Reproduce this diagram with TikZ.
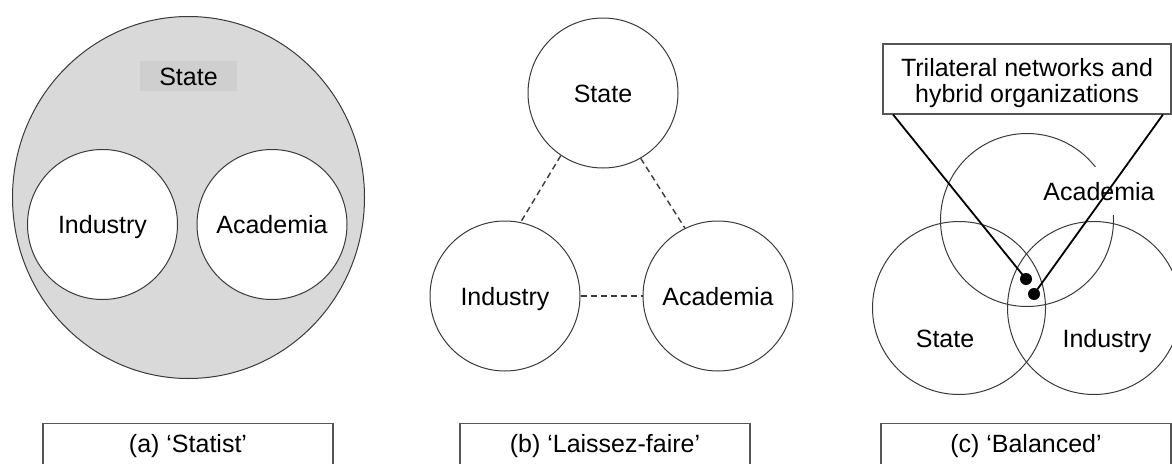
\documentclass[tikz,border=0pt]{standalone}
\usepackage{fontspec}
\setmainfont{Liberation Sans}
\usetikzlibrary{shapes.geometric}
\definecolor{fillgray}{HTML}{D9D9D9}
\definecolor{labgray}{HTML}{CFCFCF}
\definecolor{strokec}{HTML}{3A3A3A}
\definecolor{boxc}{HTML}{555555}
\begin{document}
\begin{tikzpicture}[x=1pt,y=-1pt,
  txt/.style={font=\fontsize{25}{26}\selectfont, text height=18pt, text depth=0pt, inner sep=0pt},
  ring/.style={circle, draw=strokec, line width=1pt, minimum size=150pt, inner sep=0pt, txt},
  vring/.style={circle, draw=strokec, line width=1pt, minimum size=173pt, inner sep=0pt},
  dashline/.style={draw=strokec, line width=1.4pt, dash pattern=on 6pt off 4pt},
  lead/.style={draw=black, line width=1.8pt},
  dotc/.style={circle, fill=black, minimum size=12pt, inner sep=0pt},
  capbox/.style={draw=boxc, line width=1.3pt, minimum width=290pt, minimum height=60pt, anchor=north, inner sep=0pt}
]
\clip (0,0) rectangle (1172,463);
\fill[white] (0,0) rectangle (1172,463);

% ---------- (a) Statist ----------
\node[ellipse, draw=strokec, fill=fillgray, line width=1pt, minimum width=352pt, minimum height=362pt, inner sep=0pt] (bigstate) at (188.5,197.5) {};
\node[txt, fill=labgray, minimum width=97pt, minimum height=30pt] (statelab) at (188.5,76) {State};
\node[ring, fill=white] (ia) at (102.5,224.5) {Industry};
\node[ring, fill=white] (aa) at (272,224.5) {Academia};

% ---------- (b) Laissez-faire ----------
\node[ring] (sb) at (603,93) {State};
\node[ring] (ib) at (505,296) {Industry};
\node[ring] (ab) at (718,296) {Academia};
\draw[dashline] (sb.236) -- (ib.78);
\draw[dashline] (sb.300) -- (ab.116);
\draw[dashline] (ib.east) -- (ab.west);

% ---------- (c) Balanced ----------
\node[vring] (acirc) at (1027,220) {};
\node[vring] (scirc) at (959,308) {};
\node[vring] (icirc) at (1094,308) {};
\node[txt] (slab) at (945,338) {State};
\node[txt] (ilab) at (1107,338) {Industry};
\node[txt, fill=white, inner ysep=15pt, inner xsep=2pt] (alab) at (1099,191) {Academia};

\node[draw=boxc, line width=1.3pt, fill=white, minimum width=288pt, minimum height=70pt, inner sep=0pt] (tribox) at (1027,79) {};
\node[font=\fontsize{25}{26}\selectfont, align=center, inner sep=0pt] (tritext) at (1027,82.6) {Trilateral networks and\\hybrid organizations};

\node[dotc] (d1) at (1026,279) {};
\node[dotc] (d2) at (1034,294) {};
\coordinate (l1) at (893,114.5);
\coordinate (l2) at (1163,114.5);
\draw[lead] (l1) -- (d1.center);
\draw[lead] (l2) -- (d2.center);

% ---------- captions ----------
\node[capbox] (capa) at (188,423) {};
\node[capbox] (capb) at (605,423) {};
\node[capbox] (capc) at (1026,423) {};
\node[txt] (capat) at (188,443.5) {(a) ‘Statist’};
\node[txt] (capbt) at (605,443.5) {(b) ‘Laissez-faire’};
\node[txt] (capct) at (1026,443.5) {(c) ‘Balanced’};
\end{tikzpicture}
\end{document}
